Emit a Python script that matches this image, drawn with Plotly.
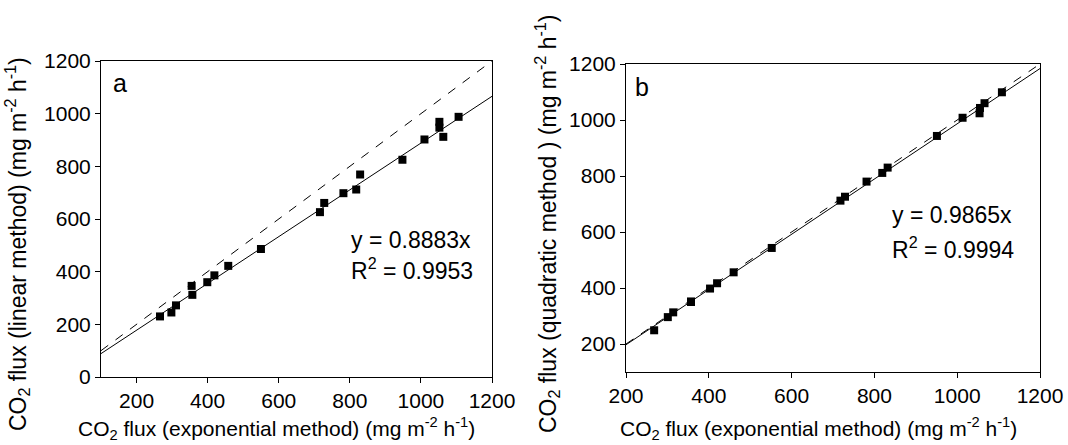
import plotly.graph_objects as go

# Data
x_exp = [266, 298, 311, 355, 357, 399, 419, 458, 550, 716, 728, 782, 818, 829, 948, 1010, 1052, 1052, 1063, 1106]
y_linear = [230, 245, 272, 346, 312, 360, 386, 422, 486, 626, 661, 698, 712, 769, 825, 902, 969, 947, 912, 988]

x_exp_b = [268, 301, 314, 357, 357, 403, 420, 460, 552, 718, 729, 781, 819, 832, 951, 1013, 1054, 1055, 1066, 1108]
y_quad = [249, 296, 313, 350, 352, 398, 417, 456, 543, 712, 726, 780, 811, 830, 943, 1008, 1024, 1043, 1060, 1099]

slope_a = 0.8883
r2_a = 0.9953
slope_b = 0.9865
r2_b = 0.9994

xrange_a = [100, 1200]
yrange_a = [0, 1200]
xrange_b = [200, 1200]
yrange_b = [100, 1200]

ticks_a_x = [200, 400, 600, 800, 1000, 1200]
ticks_a_y = [0, 200, 400, 600, 800, 1000, 1200]
ticks_b = [200, 400, 600, 800, 1000, 1200]

FONT = "Liberation Sans, Arial, sans-serif"
W, H = 1068, 445

fig = go.Figure()

# Panel a
fig.add_trace(go.Scatter(x=xrange_a, y=xrange_a, mode="lines",
                         line=dict(color="black", width=1, dash="dash"),
                         xaxis="x", yaxis="y", showlegend=False))
fig.add_trace(go.Scatter(x=xrange_a, y=[slope_a * v for v in xrange_a], mode="lines",
                         line=dict(color="black", width=1),
                         xaxis="x", yaxis="y", showlegend=False))
fig.add_trace(go.Scatter(x=x_exp, y=y_linear, mode="markers",
                         marker=dict(symbol="square", size=8, color="black"),
                         xaxis="x", yaxis="y", showlegend=False))

# Panel b
fig.add_trace(go.Scatter(x=xrange_b, y=xrange_b, mode="lines",
                         line=dict(color="black", width=1, dash="dash"),
                         xaxis="x2", yaxis="y2", showlegend=False))
fig.add_trace(go.Scatter(x=xrange_b, y=[slope_b * v for v in xrange_b], mode="lines",
                         line=dict(color="black", width=1),
                         xaxis="x2", yaxis="y2", showlegend=False))
fig.add_trace(go.Scatter(x=x_exp_b, y=y_quad, mode="markers",
                         marker=dict(symbol="square", size=8, color="black"),
                         xaxis="x2", yaxis="y2", showlegend=False))

def px_x(p):
    return p / W

def px_y(p):
    return 1 - p / H

axis_common = dict(showline=True, linecolor="black", linewidth=1, mirror=True,
                   ticks="outside", ticklen=5, tickwidth=1, tickcolor="black",
                   showgrid=False, zeroline=False, automargin=False,
                   tickfont=dict(family=FONT, size=21, color="black"))

fig.update_layout(
    template="none",
    width=W, height=H,
    margin=dict(l=0, r=0, t=0, b=0, pad=0),
    paper_bgcolor="white", plot_bgcolor="white",
    xaxis=dict(domain=[px_x(101), px_x(492)], range=xrange_a, tickvals=ticks_a_x,
               anchor="y", **axis_common),
    yaxis=dict(domain=[px_y(377), px_y(61)], range=yrange_a, tickvals=ticks_a_y,
               anchor="x", **axis_common),
    xaxis2=dict(domain=[px_x(626), px_x(1040)], range=xrange_b, tickvals=ticks_b,
                anchor="y2", **axis_common),
    yaxis2=dict(domain=[px_y(372), px_y(64)], range=yrange_b, tickvals=ticks_b,
                anchor="x2", **axis_common),
)

ann_font = dict(family=FONT, size=23, color="black")
xtitle_font = dict(family=FONT, size=21, color="black")
ytitle_font = dict(family=FONT, size=23, color="black")
xtitle = "CO<sub>2</sub> flux (exponential method) (mg m<sup>-2</sup> h<sup>-1</sup>)"

annotations = [
    dict(text="a", xref="x domain", yref="y domain", x=0.025, y=0.93,
         xanchor="left", yanchor="middle", showarrow=False, font=dict(family=FONT, size=25, color="black")),
    dict(text=f"y = {slope_a}x", xref="x domain", yref="y domain", x=0.634, y=0.434,
         xanchor="left", yanchor="middle", showarrow=False, font=ann_font),
    dict(text=f"R<sup>2</sup> = {r2_a}", xref="x domain", yref="y domain", x=0.634, y=0.342,
         xanchor="left", yanchor="middle", showarrow=False, font=ann_font),
    dict(text="b", xref="x2 domain", yref="y2 domain", x=0.017, y=0.926,
         xanchor="left", yanchor="middle", showarrow=False, font=dict(family=FONT, size=25, color="black")),
    dict(text=f"y = {slope_b}x", xref="x2 domain", yref="y2 domain", x=0.638, y=0.509,
         xanchor="left", yanchor="middle", showarrow=False, font=ann_font),
    dict(text=f"R<sup>2</sup> = {r2_b}", xref="x2 domain", yref="y2 domain", x=0.638, y=0.402,
         xanchor="left", yanchor="middle", showarrow=False, font=ann_font),
    # axis titles
    dict(text=xtitle, xref="paper", yref="paper", x=px_x(276), y=px_y(428),
         xanchor="center", yanchor="middle", showarrow=False, font=xtitle_font),
    dict(text=xtitle, xref="paper", yref="paper", x=px_x(818), y=px_y(428),
         xanchor="center", yanchor="middle", showarrow=False, font=xtitle_font),
    dict(text="CO<sub>2</sub> flux (linear method) (mg m<sup>-2</sup> h<sup>-1</sup>)",
         xref="paper", yref="paper", x=px_x(17), y=px_y(244), textangle=-90,
         xanchor="center", yanchor="middle", showarrow=False, font=ytitle_font),
    dict(text="CO<sub>2</sub> flux (quadratic method ) (mg m<sup>-2</sup> h<sup>-1</sup>)",
         xref="paper", yref="paper", x=px_x(547), y=px_y(224), textangle=-90,
         xanchor="center", yanchor="middle", showarrow=False, font=ytitle_font),
]
fig.update_layout(annotations=annotations)

fig.write_html("out.html", config={"displayModeBar": False},
               post_script="document.body.style.margin='0';document.body.style.overflow='hidden';")
